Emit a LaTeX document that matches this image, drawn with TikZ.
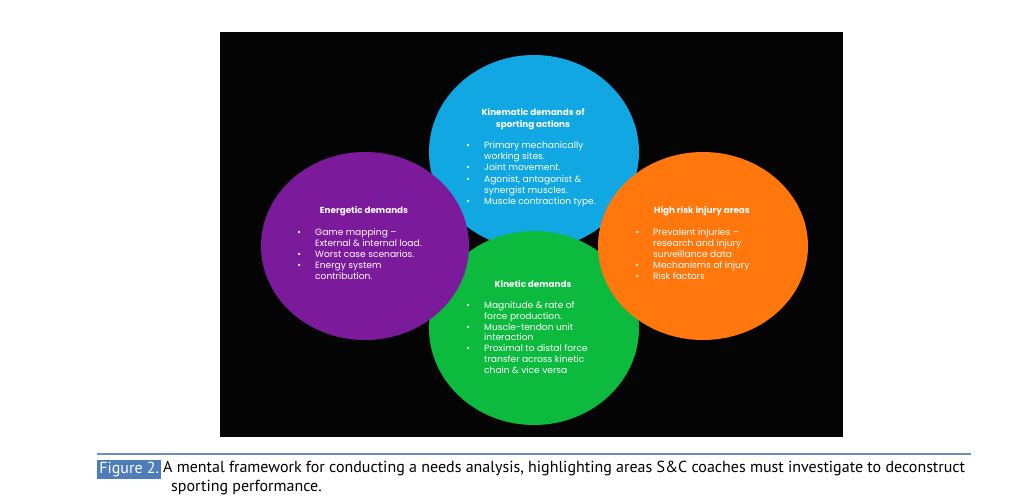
\documentclass[tikz,border=0pt]{standalone}
\usepackage{fontspec}
\setmainfont{PT Sans}
\newfontfamily\slidefont{Poppins}
\usetikzlibrary{shapes.geometric}
\definecolor{cblue}{HTML}{11A7E2}
\definecolor{cpurple}{HTML}{7C1A9C}
\definecolor{corange}{HTML}{FF770D}
\definecolor{cgreen}{HTML}{0CBB3E}
\definecolor{slidebg}{HTML}{040404}
\definecolor{capbox}{HTML}{4F7DB9}
\definecolor{capline}{HTML}{6C8DBF}
\newcommand{\bul}{\llap{\textbullet\hspace{14.2pt}}}
\tikzset{
  circ/.style={ellipse, inner sep=0pt, minimum width=210pt, minimum height=194pt},
  head/.style={font=\slidefont\bfseries\fontsize{8.8}{12}\selectfont, text=white, align=center, inner sep=0pt, anchor=north},
  body/.style={font=\slidefont\fontsize{9.1}{#1}\selectfont, text=white, align=left, inner sep=0pt, anchor=north west},
  body/.default=11,
  captxt/.style={font=\fontsize{16}{19}\selectfont, inner sep=0pt, anchor=base west}
}
\begin{document}
\begin{tikzpicture}[x=1pt,y=-1pt]
\useasboundingbox (0,0) rectangle (1036,503);
\fill[white] (0,0) rectangle (1036,503);
\node[fill=slidebg, inner sep=0pt, minimum width=623pt, minimum height=405pt, anchor=north west] (slide) at (220,32) {};
% circles
\node[circ, fill=cblue] (kinematic) at (534,152) {};
\node[circ, fill=cgreen] (kinetic) at (534,328) {};
\node[circ, fill=cpurple, minimum width=208pt, minimum height=188pt] (energetic) at (365,246) {};
\node[circ, fill=corange, minimum width=210pt, minimum height=188pt] (injury) at (703,246) {};
% blue text
\node[head] (kinematicH) at (533,108.6) {Kinematic demands of\\sporting actions};
\node[body=11.2] (kinematicB) at (484,141.4) {\bul Primary mechanically\\working sites.\\\bul Joint movement.\\\bul Agonist, antagonist \&\\synergist muscles.\\\bul Muscle contraction type.};
% purple text
\node[head] (energeticH) at (364,206.6) {Energetic demands};
\node[body=11] (energeticB) at (315,228.4) {\bul Game mapping –\\External \& internal load.\\\bul Worst case scenarios.\\\bul Energy system\\contribution.};
% orange text
\node[head] (injuryH) at (702,206.6) {High risk injury areas};
\node[body=11] (injuryB) at (653,228.4) {\bul Prevalent injuries –\\research and injury\\surveillance data\\\bul Mechanisms of injury\\\bul Risk factors};
% green text
\node[head] (kineticH) at (533,280.6) {Kinetic demands};
\node[body=10.8] (kineticB) at (484,301.4) {\bul Magnitude \& rate of\\force production.\\\bul Muscle-tendon unit\\interaction\\\bul Proximal to distal force\\transfer across kinetic\\chain \& vice versa};
% caption
\coordinate (lineL) at (97,454);
\coordinate (lineR) at (971,454);
\draw[capline, line width=1.4pt] (lineL) -- (lineR);
\node[fill=capbox, text=white, inner sep=0pt, minimum width=64pt, minimum height=19pt, anchor=north west, font=\fontsize{16}{18}\selectfont] (figlabel) at (97,460) {Figure 2.};
\node[captxt] (cap1) at (163,472.7) {A mental framework for conducting a needs analysis, highlighting areas S\&C coaches must investigate to deconstruct};
\node[captxt] (cap2) at (171,491.7) {sporting performance.};
\end{tikzpicture}
\end{document}
